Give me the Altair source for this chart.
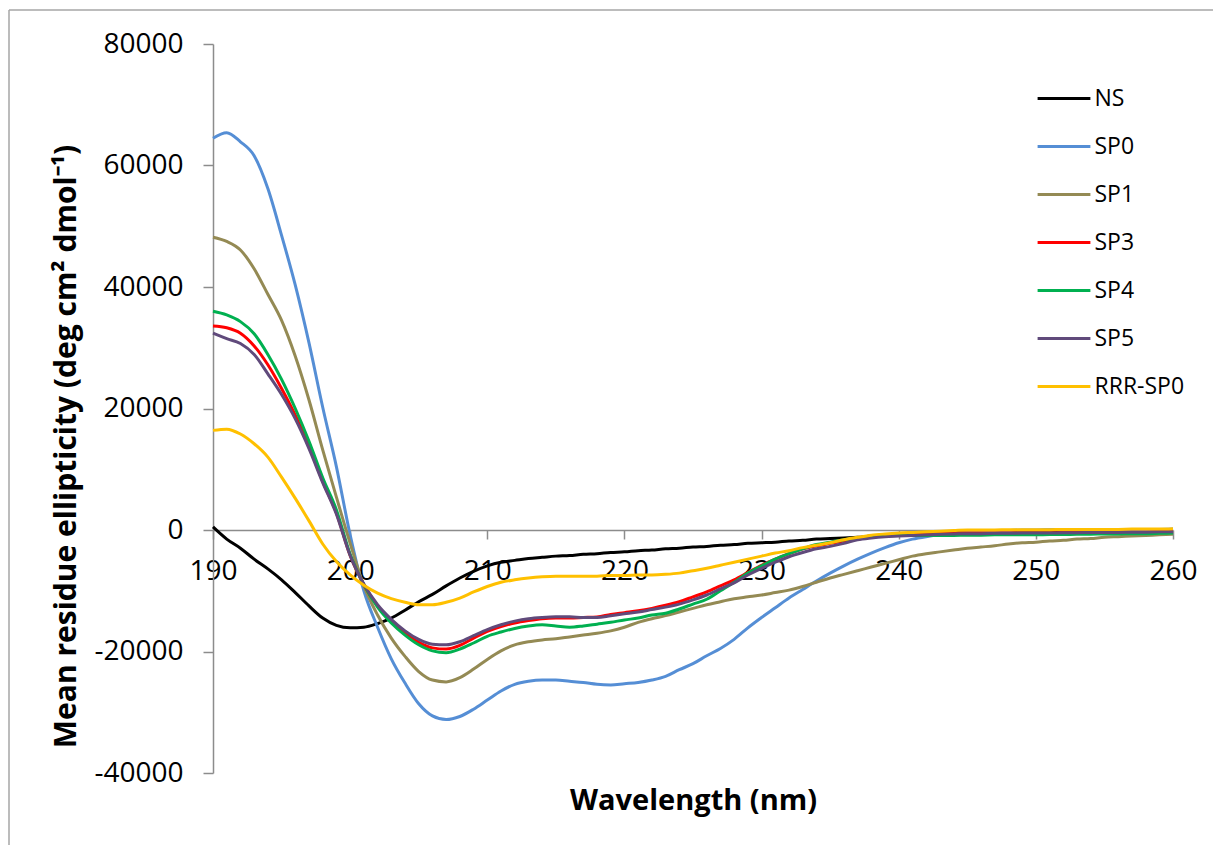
import altair as alt
import pandas as pd

# ---- data ----
wavelength = list(range(190, 261))

ns = [500, -1500, -3000, -4800, -6400, -8200, -10300, -12500, -14500, -15700,
      -16100, -16000, -15400, -14500, -13200, -11800, -10600, -9200, -7900, -6800,
      -5900, -5300, -5000, -4700, -4500, -4300, -4200, -4000, -3900, -3700,
      -3600, -3400, -3300, -3100, -3000, -2800, -2700, -2500, -2400, -2200,
      -2100, -2000, -1800, -1700, -1500, -1400, -1300, -1200, -1000, -900,
      -800, -700, -600, -500, -450, -400, -300, -250, -200, -150,
      -100, -50, 0, 0, 0, 0, 0, 0, 0, 0, 0]

sp0 = [64500, 65400, 63900, 61600, 56200, 48500, 40300, 30800, 20200, 10400,
       -800, -10000, -16000, -21200, -25200, -28600, -30600, -31200, -30700, -29500,
       -28000, -26500, -25400, -24900, -24700, -24700, -24900, -25100, -25400, -25500,
       -25300, -25100, -24700, -24100, -23000, -22000, -20700, -19500, -18000, -16100,
       -14400, -12800, -11200, -9800, -8400, -7100, -5900, -4800, -3800, -2900,
       -2100, -1500, -1100, -800, -600, -400, -300, -200, -100, 0,
       0, 50, 100, 100, 100, 100, 100, 100, 100, 100, 150]

sp1 = [48200, 47500, 46100, 43000, 38800, 34500, 28600, 21400, 13200, 5400,
       -2200, -9200, -14000, -17800, -20800, -23300, -24700, -25000, -24300, -22900,
       -21300, -19900, -18900, -18400, -18100, -17900, -17600, -17300, -17000, -16600,
       -16000, -15200, -14600, -14100, -13500, -12900, -12300, -11800, -11300, -11000,
       -10700, -10300, -9900, -9300, -8600, -7900, -7300, -6700, -6100, -5500,
       -4900, -4300, -3900, -3600, -3300, -3000, -2800, -2600, -2300, -2100,
       -2000, -1800, -1700, -1500, -1400, -1200, -1100, -1000, -900, -800, -700]

sp3 = [33600, 33300, 32400, 30300, 27200, 23300, 18900, 13800, 8000, 2800,
       -4200, -9000, -12500, -15000, -17000, -18500, -19400, -19600, -19000, -17800,
       -16700, -15900, -15300, -14900, -14600, -14500, -14500, -14400, -14300, -13900,
       -13600, -13300, -12900, -12400, -11800, -11000, -10200, -9200, -8200, -7000,
       -5800, -4800, -3900, -3100, -2600, -2200, -1800, -1400, -1100, -900,
       -800, -700, -600, -550, -500, -500, -500, -500, -500, -500,
       -500, -500, -450, -450, -400, -400, -400, -350, -350, -300, -300]

sp4 = [36000, 35400, 34300, 32300, 28900, 24800, 20000, 14600, 8600, 3300,
       -4000, -9000, -12700, -15300, -17300, -18900, -19900, -20200, -19600, -18600,
       -17500, -16800, -16200, -15800, -15600, -15800, -16000, -15800, -15500, -15200,
       -14800, -14500, -14000, -13700, -13000, -12200, -11400, -10000, -8600, -7100,
       -5900, -4800, -3900, -3100, -2400, -2000, -1600, -1300, -1100, -1000,
       -900, -900, -900, -900, -900, -850, -850, -800, -800, -800,
       -800, -750, -750, -700, -700, -650, -650, -600, -600, -550, -500]

sp5 = [32400, 31500, 30700, 28900, 25700, 22300, 18300, 13400, 7800, 2600,
       -4200, -8900, -12300, -14700, -16600, -18000, -18800, -18900, -18400, -17400,
       -16400, -15600, -15000, -14600, -14400, -14300, -14300, -14400, -14400, -14100,
       -13800, -13500, -13100, -12700, -12200, -11500, -10700, -9700, -8700, -7400,
       -6300, -5300, -4400, -3700, -3100, -2700, -2200, -1600, -1300, -1100,
       -1000, -900, -800, -700, -650, -600, -600, -550, -550, -500,
       -500, -500, -450, -450, -400, -400, -400, -350, -350, -300, -300]

rrr_sp0 = [16400, 16600, 15800, 14200, 12000, 8700, 5200, 1500, -2300, -5200,
           -7400, -9100, -10400, -11300, -11900, -12300, -12300, -11900, -11200, -10200,
           -9300, -8600, -8200, -7900, -7700, -7600, -7600, -7600, -7600, -7500,
           -7500, -7400, -7400, -7300, -7100, -6700, -6300, -5800, -5300, -4800,
           -4300, -3800, -3400, -2900, -2500, -2100, -1600, -1200, -850, -650,
           -500, -400, -300, -200, -100, 0, 0, 0, 50, 50,
           50, 50, 100, 100, 100, 100, 100, 150, 150, 150, 200]

series_names = ["NS", "SP0", "SP1", "SP3", "SP4", "SP5", "RRR-SP0"]
series_values = [ns, sp0, sp1, sp3, sp4, sp5, rrr_sp0]
series_colors = ["#000000", "#558ED5", "#948A54", "#FF0000", "#00B050", "#604A7B", "#FFC000"]

x_ticks = [190, 200, 210, 220, 230, 240, 250, 260]
y_ticks = [-40000, -20000, 0, 20000, 40000, 60000, 80000]

rows = []
for name, vals in zip(series_names, series_values):
    for w, v in zip(wavelength, vals):
        rows.append({"Wavelength": w, "MRE": v, "Series": name})
df = pd.DataFrame(rows)

FONT = "Open Sans"
AXIS_GRAY = "#8c8c8c"

x_axis = alt.Axis(
    values=x_ticks, title="Wavelength (nm)", offset=-243, grid=False,
    domainColor=AXIS_GRAY, domainWidth=1.5, tickColor=AXIS_GRAY, tickWidth=1.5,
    tickSize=9, labelPadding=18, labelFont=FONT, labelFontSize=28, labelColor="black",
    labelFlush=False, labelOverlap=False,
    titleFont=FONT, titleFontSize=29, titleFontWeight="bold", titleColor="black",
    titleX=480, titleY=279, titleBaseline="alphabetic", titleAlign="center",
)
y_axis = alt.Axis(
    values=y_ticks, title="Mean residue ellipticity (deg cm² dmol⁻¹)", grid=False,
    domainColor=AXIS_GRAY, domainWidth=1.5, tickColor=AXIS_GRAY, tickWidth=1.5,
    tickSize=10, labelPadding=20, labelFont=FONT, labelFontSize=28, labelColor="black",
    labelExpr="'' + datum.value", labelFlush=False, labelOverlap=False,
    titleFont=FONT, titleFontSize=30, titleFontWeight="bold", titleColor="black",
    titleAngle=270, titleX=-147, titleY=402, titleBaseline="middle", titleAlign="center",
)

lines = alt.Chart(df).mark_line(strokeWidth=3, interpolate="monotone").encode(
    x=alt.X("Wavelength:Q", scale=alt.Scale(domain=[190, 260], nice=False, zero=False), axis=x_axis),
    y=alt.Y("MRE:Q", scale=alt.Scale(domain=[-40000, 80000], nice=False), axis=y_axis),
    color=alt.Color(
        "Series:N",
        scale=alt.Scale(domain=series_names, range=series_colors),
        legend=alt.Legend(
            title=None, orient="none", legendX=825.5, legendY=29, padding=0,
            symbolType="M-1.1,0H1.1", symbolSize=2304, symbolStrokeWidth=3,
            labelFont=FONT, labelFontSize=23, labelColor="black", labelOffset=5,
            rowPadding=10,
        ),
    ),
)

frame_df = pd.DataFrame({"k": [0]})
left_frame = alt.Chart(frame_df).mark_rule(color="#a6a6a6", strokeWidth=1.5).encode(
    x=alt.value(-204), y=alt.value(-34), y2=alt.value(801)
)
top_frame = alt.Chart(frame_df).mark_rule(color="#a6a6a6", strokeWidth=1.5).encode(
    x=alt.value(-204), x2=alt.value(1000), y=alt.value(-34)
)

chart = alt.layer(lines, left_frame, top_frame).properties(
    width=960, height=729,
    autosize=alt.AutoSizeParams(type="none"),
    padding={"left": 213, "top": 44, "right": 40, "bottom": 72},
    background="white",
).configure_view(strokeWidth=0)

chart.save("out.html", embed_options={"renderer": "svg", "actions": False})
